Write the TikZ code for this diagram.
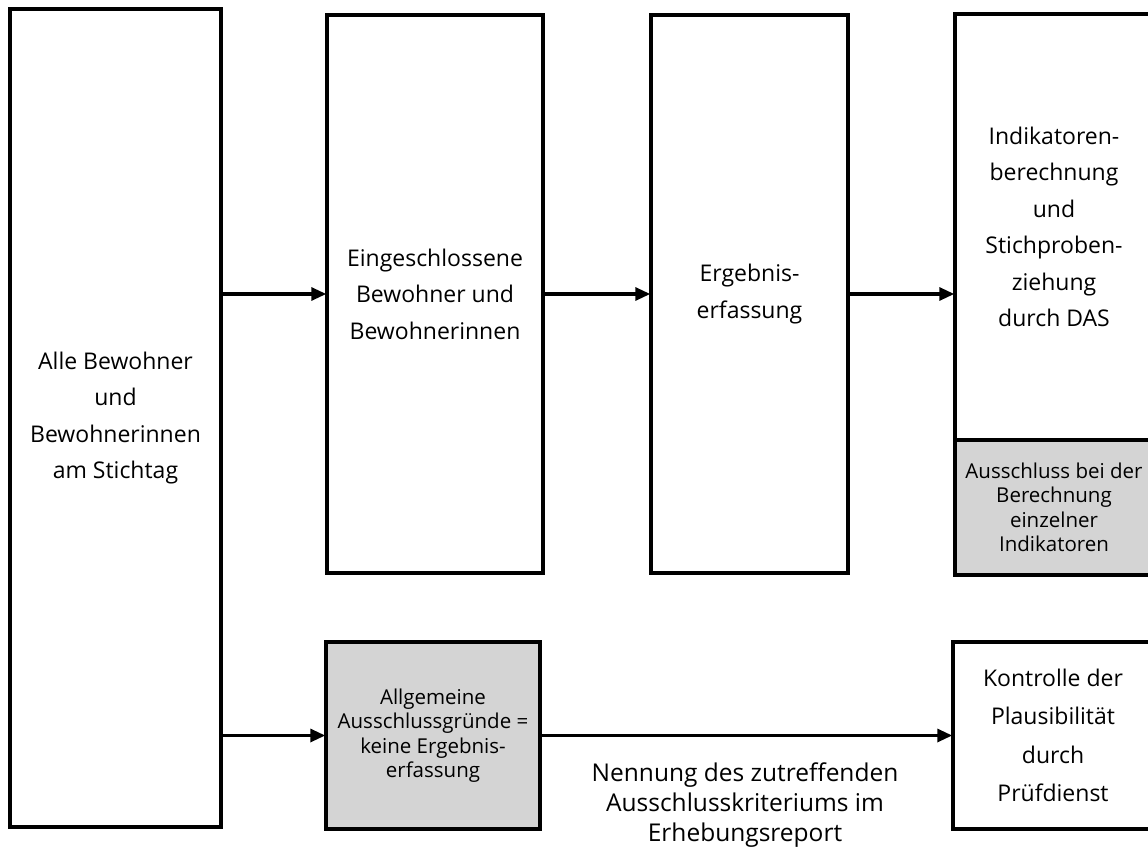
\documentclass[tikz,border=0pt]{standalone}
\usepackage{fontspec}
\setmainfont{Open Sans}
\usetikzlibrary{arrows.meta}
\tikzset{
  box/.style={draw=black, line width=3.5pt, rectangle, inner sep=0pt, align=center, font=\fontsize{23}{36.5}\selectfont},
  graybox/.style={box, fill=black!17},
  smalltxt/.style={font=\fontsize{20.5}{24.5}\selectfont},
  arr/.style={line width=3.2pt, -{Triangle[length=15pt,width=13pt]}, shorten >=-1pt},
  lbl/.style={align=center, font=\fontsize{24.5}{30}\selectfont, inner sep=0pt}
}
\begin{document}
\begin{tikzpicture}[x=1pt,y=-1pt]
\clip (0,0) rectangle (1148,850);
\fill[white] (0,0) rectangle (1148,850);
\node[box, minimum width=211pt, minimum height=818pt] (b1) at (115.5,418) {Alle Bewohner\\und\\Bewohnerinnen\\am Stichtag};
\node[box, minimum width=216pt, minimum height=558pt] (b2) at (435,294) {Eingeschlossene\\Bewohner und\\Bewohnerinnen};
\node[box, minimum width=197pt, minimum height=558pt] (b3) at (749.5,294) {Ergebnis-\\erfassung};
\node[box, minimum width=198pt, minimum height=426pt] (b4) at (1054,227) {Indikatoren-\\berechnung\\und\\Stichproben-\\ziehung\\durch DAS};
\node[graybox, smalltxt, minimum width=198pt, minimum height=135pt] (b4g) at (1054,507.5) {Ausschluss bei der\\Berechnung\\einzelner\\Indikatoren};
\node[graybox, smalltxt, minimum width=214pt, minimum height=187pt] (b5) at (433,735.5) {Allgemeine\\Ausschlussgründe =\\keine Ergebnis-\\erfassung};
\node[box, minimum width=200pt, minimum height=187pt, font=\fontsize{23}{38.5}\selectfont] (b6) at (1053,735.5) {Kontrolle der\\Plausibilität\\durch\\Prüfdienst};
\draw[arr] (b1.east |- b2.west) -- (b2.west);
\draw[arr] (b2.east) -- (b3.west);
\draw[arr] (b3.east) -- (b3.east -| b4.west);
\draw[arr] (b1.east |- b5.west) -- (b5.west);
\draw[arr] (b5.east) -- (b6.west);
\node[lbl] (t) at (745,805) {Nennung des zutreffenden\\Ausschlusskriteriums im\\Erhebungsreport};
\end{tikzpicture}
\end{document}
